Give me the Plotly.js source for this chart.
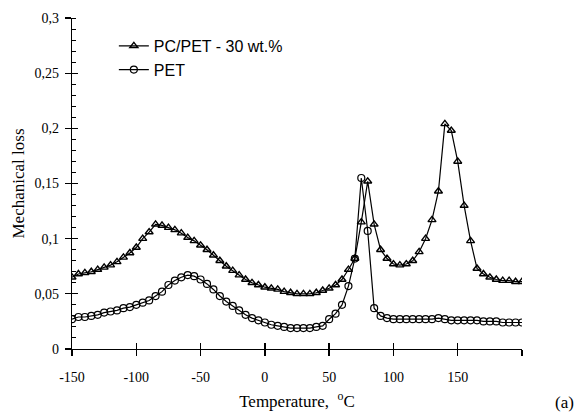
<!DOCTYPE html>
<html>
<head>
<meta charset="utf-8">
<script src="https://cdn.plot.ly/plotly-3.0.1.min.js"></script>
<style>html,body{margin:0;padding:0;background:#fff;}#chart{width:584px;height:416px;}</style>
</head>
<body>
<div id="chart"></div>
<script>
const temperature = [-150,-145,-140,-135,-130,-125,-120,-115,-110,-105,-100,-95,-90,-85,-80,-75,-70,-65,-60,-55,-50,-45,-40,-35,-30,-25,-20,-15,-10,-5,0,5,10,15,20,25,30,35,40,45,50,55,60,65,70,75,80,85,90,95,100,105,110,115,120,125,130,135,140,145,150,155,160,165,170,175,180,185,190,195,200];

const pcPet30 = [0.065,0.068,0.069,0.070,0.072,0.074,0.076,0.079,0.083,0.087,0.092,0.100,0.106,0.113,0.112,0.110,0.108,0.105,0.101,0.098,0.094,0.090,0.085,0.080,0.075,0.071,0.067,0.063,0.060,0.058,0.056,0.055,0.054,0.052,0.051,0.050,0.050,0.050,0.051,0.053,0.055,0.058,0.063,0.072,0.082,0.115,0.152,0.113,0.090,0.082,0.077,0.076,0.077,0.080,0.088,0.100,0.117,0.143,0.204,0.198,0.170,0.130,0.098,0.073,0.068,0.065,0.063,0.062,0.062,0.061,0.061];

const pet = [0.027,0.029,0.029,0.030,0.031,0.033,0.034,0.035,0.037,0.038,0.040,0.042,0.044,0.048,0.052,0.058,0.062,0.065,0.067,0.066,0.063,0.059,0.054,0.048,0.043,0.039,0.035,0.031,0.028,0.026,0.024,0.022,0.021,0.020,0.019,0.019,0.019,0.019,0.020,0.021,0.027,0.032,0.040,0.057,0.082,0.155,0.107,0.037,0.030,0.028,0.027,0.027,0.027,0.027,0.027,0.027,0.027,0.028,0.027,0.026,0.026,0.026,0.026,0.026,0.025,0.025,0.025,0.024,0.024,0.024,0.024];

const seriesNames = ['PC/PET - 30 wt.%', 'PET'];
const xTickVals = [-150,-100,-50,0,50,100,150,200];
const xTickText = ['-150','-100','-50','0','50','100','150',''];
const yTickVals = [0,0.05,0.1,0.15,0.2,0.25,0.3];
const yTickText = ['0','0,05','0,1','0,15','0,2','0,25','0,3'];

const serif = '"Liberation Serif", "Times New Roman", serif';
const sans = '"Liberation Sans", Arial, sans-serif';

const traces = [
  {x: temperature, y: pcPet30, name: seriesNames[0], mode: 'lines+markers', type: 'scatter',
   line: {color: '#000', width: 1.2},
   marker: {symbol: 'triangle-up-open', size: 7, color: '#000', line: {width: 1.4}}},
  {x: temperature, y: pet, name: seriesNames[1], mode: 'lines+markers', type: 'scatter',
   line: {color: '#000', width: 1.2},
   marker: {symbol: 'circle-open', size: 7, color: '#000', line: {width: 1.2}}},
  // invisible trace on the overlay axes that carry the inner half of the crossing major ticks
  {x: [-150], y: [0], xaxis: 'x2', yaxis: 'y2', mode: 'markers', showlegend: false, hoverinfo: 'skip',
   marker: {opacity: 0}}
];

const layout = {
  width: 584, height: 416,
  margin: {l: 72, r: 62, t: 18, b: 67},
  paper_bgcolor: '#fff', plot_bgcolor: 'rgba(0,0,0,0)',
  font: {family: serif, color: '#000'},
  showlegend: true,
  legend: {x: 0.093, y: 0.967, xanchor: 'left', yanchor: 'top', bgcolor: 'rgba(0,0,0,0)',
           font: {family: sans, size: 16, color: '#000'}, itemwidth: 30, tracegroupgap: 0},
  xaxis: {range: [-150, 200], tickvals: xTickVals, ticktext: xTickText,
          showgrid: false, zeroline: false, showline: true, linecolor: '#000', linewidth: 1.3,
          ticks: 'outside', ticklen: 6, tickwidth: 1.3, tickcolor: '#000', ticklabelstandoff: 9,
          tickfont: {family: serif, size: 14, color: '#000'},
          title: {text: 'Temperature,  <sup>o</sup>C', font: {family: serif, size: 17, color: '#000'}, standoff: 11}},
  yaxis: {range: [0, 0.3], tickvals: yTickVals, ticktext: yTickText,
          showgrid: false, zeroline: false, showline: true, linecolor: '#000', linewidth: 1.3,
          ticks: 'outside', ticklen: 6, tickwidth: 1.3, tickcolor: '#000', ticklabelstandoff: 3,
          minor: {dtick: 0.01, ticks: 'inside', ticklen: 4, tickwidth: 1, tickcolor: '#000', showgrid: false},
          tickfont: {family: serif, size: 14, color: '#000'},
          title: {text: 'Mechanical loss', font: {family: serif, size: 17, color: '#000'}, standoff: 5}},
  xaxis2: {overlaying: 'x', matches: 'x', range: [-150, 200], tickvals: xTickVals, showticklabels: false,
           ticks: 'inside', ticklen: 6, tickwidth: 1.3, tickcolor: '#000', showgrid: false, zeroline: false, showline: false},
  yaxis2: {overlaying: 'y', range: [0, 0.3], tickvals: yTickVals, showticklabels: false,
           ticks: 'inside', ticklen: 6, tickwidth: 1.3, tickcolor: '#000', showgrid: false, zeroline: false, showline: false},
  annotations: [{text: '(a)', xref: 'paper', yref: 'paper', x: 1.12, y: -0.163, xanchor: 'right', yanchor: 'middle',
                 showarrow: false, font: {family: serif, size: 17, color: '#000'}}]
};

Plotly.newPlot('chart', traces, layout, {displayModeBar: false, staticPlot: true});
</script>
</body>
</html>
